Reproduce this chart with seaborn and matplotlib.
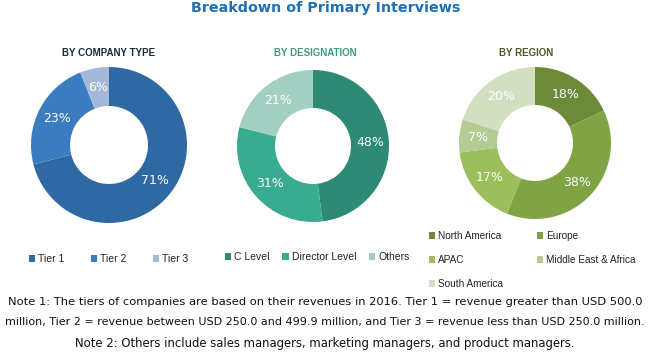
import matplotlib
matplotlib.use("Agg")
import matplotlib.pyplot as plt
import seaborn as sns

company_labels = ['Tier 1', 'Tier 2', 'Tier 3']
company_values = [71, 23, 6]
designation_labels = ['C Level', 'Director Level', 'Others']
designation_values = [48, 31, 21]
region_labels = ['North America', 'Europe', 'APAC', 'Middle East & Africa', 'South America']
region_values = [18, 38, 17, 7, 20]

company_colors = ['#2f69a3', '#3a7cbf', '#a4b9d8']
designation_colors = ['#2e8a75', '#39ab8e', '#a3cfc3']
region_colors = ['#6d8a39', '#80a344', '#9cbf5b', '#b4cc94', '#d2dfc0']

sns.set_theme(style="white")
narrow = ['Liberation Sans', 'DejaVu Sans']

W, H = 650, 358
fig = plt.figure(figsize=(6.5, 3.58), dpi=100)


def box(cx, cy, r):
    # pixel centre/radius (top-left origin) -> figure fraction
    return [(cx - r) / W, (H - cy - r) / H, 2 * r / W, 2 * r / H]


def donut(rect, values, colors):
    ax = fig.add_axes(rect)
    wedges, texts = ax.pie(values, colors=colors, startangle=90, counterclock=False,
                           wedgeprops=dict(width=0.5, edgecolor='none'),
                           labels=[f'{v}%' for v in values], labeldistance=0.75)
    for t in texts:
        t.set_color('white')
        t.set_fontsize(9)
        t.set_ha('center')
        t.set_va('center')
    ax.set_xlim(-1, 1)
    ax.set_ylim(-1, 1)
    ax.axis('off')
    return ax, wedges


ax1, w1 = donut(box(109, 145, 78), company_values, company_colors)
ax2, w2 = donut(box(313, 146, 76), designation_values, designation_colors)
ax3, w3 = donut(box(535, 143, 76), region_values, region_colors)

fig.text(326 / W, 1 - 8 / H, 'Breakdown of Primary Interviews', ha='center', va='center',
         color='#1f70b5', fontsize=10.3, fontweight='bold')
fig.text(109 / W, 1 - 53 / H, 'BY COMPANY TYPE', ha='center', va='center',
         color='#1b2838', fontsize=7, fontweight='bold', family=narrow)
fig.text(315 / W, 1 - 53 / H, 'BY DESIGNATION', ha='center', va='center',
         color='#3c9b80', fontsize=7, fontweight='bold', family=narrow)
fig.text(526 / W, 1 - 53 / H, 'BY REGION', ha='center', va='center',
         color='#4b5a28', fontsize=7, fontweight='bold', family=narrow)

leg_kw = dict(frameon=False, handlelength=0.6, handleheight=0.6, handletextpad=0.3,
              labelcolor='#222222', bbox_transform=fig.transFigure,
              borderpad=0, borderaxespad=0)

fig.legend(w1, company_labels, loc='center left', ncol=3, columnspacing=2.5,
           prop={'family': narrow, 'size': 7.5},
           bbox_to_anchor=(29 / W, 1 - 259 / H), **leg_kw)
fig.legend(w2, designation_labels, loc='center left', ncol=3, columnspacing=1.2,
           prop={'family': narrow, 'size': 7.5},
           bbox_to_anchor=(225 / W, 1 - 257 / H), **leg_kw)
# row-major order: matplotlib fills columns first
order = [0, 2, 4, 1, 3]
fig.legend([w3[i] for i in order], [region_labels[i] for i in order],
           loc='upper left', ncol=2, columnspacing=3.4, labelspacing=1.4,
           prop={'family': narrow, 'size': 7.2},
           bbox_to_anchor=(429 / W, 1 - 231 / H), **leg_kw)

notes = [
    'Note 1: The tiers of companies are based on their revenues in 2016. Tier 1 = revenue greater than USD 500.0',
    'million, Tier 2 = revenue between USD 250.0 and 499.9 million, and Tier 3 = revenue less than USD 250.0 million.',
    'Note 2: Others include sales managers, marketing managers, and product managers.',
]
for y, line, fs in zip([302, 322, 343], notes, [8.25, 8.0, 8.4]):
    fig.text(325 / W, 1 - y / H, line, ha='center', va='center', color='#111111', fontsize=fs)

fig.savefig('out.png', dpi=100)
